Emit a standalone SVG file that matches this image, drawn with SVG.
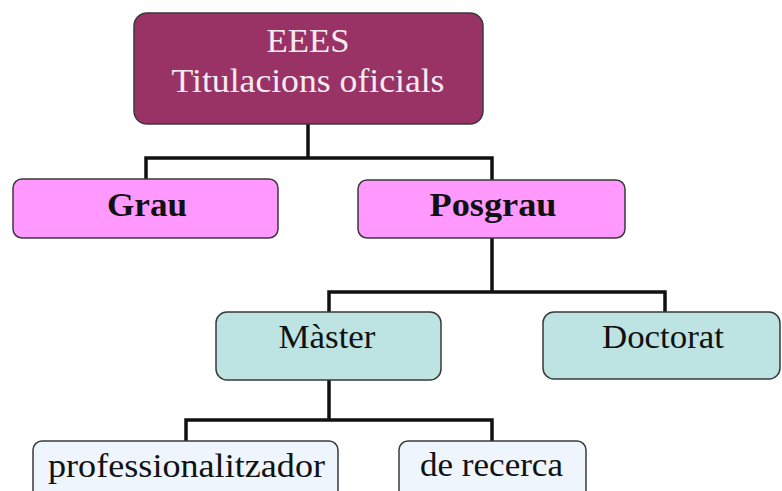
<svg xmlns="http://www.w3.org/2000/svg" width="782" height="491" viewBox="0 0 782 491">
<style>
.box{stroke:#3a3a3a;stroke-width:1.5}
.t{font-family:"Liberation Serif","Times New Roman",serif;font-size:33px;text-anchor:middle;fill:#111}
.b{font-weight:bold}
.w{fill:#f6ebf1}
.c{fill:none;stroke:#111;stroke-width:3.5}
</style>
<rect width="782" height="491" fill="#ffffff"/>
<g id="connectors">
<path class="c" d="M308,124 V158 M146,179 V158 H492 V180"/>
<path class="c" d="M492,238 V292 M329,312 V292 H665 V312"/>
<path class="c" d="M329,380 V420 M186,441 V420 H492 V441"/>
</g>
<g id="eees">
<rect class="box" x="134" y="13" width="349" height="111" rx="13" fill="#993366"/>
<text class="t w" x="308" y="52" textLength="83" lengthAdjust="spacingAndGlyphs">EEES</text>
<text class="t w" x="308" y="92" textLength="273" lengthAdjust="spacingAndGlyphs">Titulacions oficials</text>
</g>
<g id="grau">
<rect class="box" x="13" y="179" width="265" height="59" rx="9" fill="#ff99ff"/>
<text class="t b" x="147" y="216" textLength="80" lengthAdjust="spacingAndGlyphs">Grau</text>
</g>
<g id="posgrau">
<rect class="box" x="358" y="180" width="267" height="58" rx="9" fill="#ff99ff"/>
<text class="t b" x="493" y="216" textLength="127" lengthAdjust="spacingAndGlyphs">Posgrau</text>
</g>
<g id="master">
<rect class="box" x="216" y="312" width="225" height="68" rx="11" fill="#bde3e3"/>
<text class="t" x="327" y="348" textLength="97" lengthAdjust="spacingAndGlyphs">Màster</text>
</g>
<g id="doctorat">
<rect class="box" x="543" y="312" width="237" height="67" rx="11" fill="#bde3e3"/>
<text class="t" x="663" y="348" textLength="122" lengthAdjust="spacingAndGlyphs">Doctorat</text>
</g>
<g id="professionalitzador">
<rect class="box" x="33" y="441" width="305" height="60" rx="9" fill="#eef5fc"/>
<text class="t" x="186.5" y="477" textLength="277" lengthAdjust="spacingAndGlyphs">professionalitzador</text>
</g>
<g id="recerca">
<rect class="box" x="399" y="441" width="187" height="60" rx="9" fill="#eef5fc"/>
<text class="t" x="491.5" y="476" textLength="143" lengthAdjust="spacingAndGlyphs">de recerca</text>
</g>
</svg>
